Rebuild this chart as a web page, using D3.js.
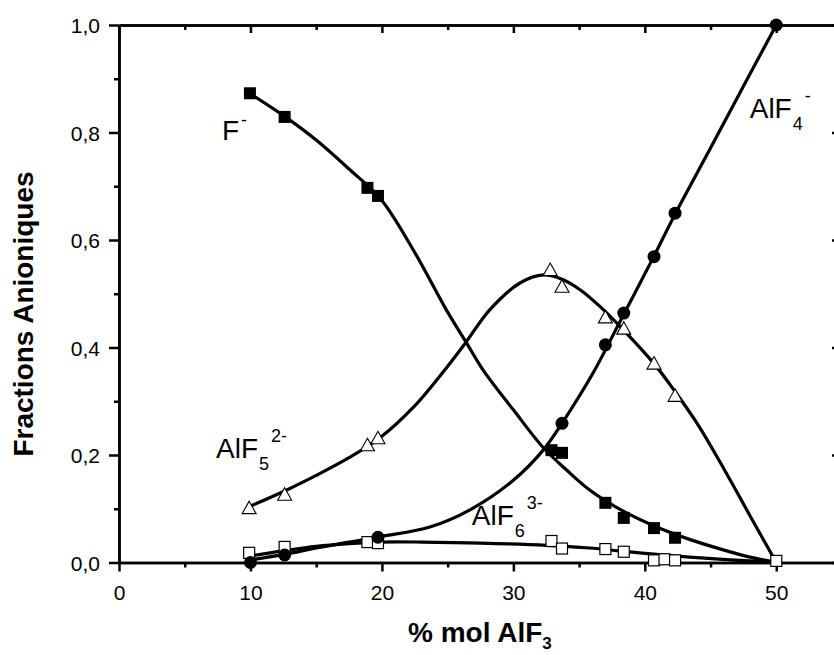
<!DOCTYPE html>
<html><head><meta charset="utf-8">
<script src="https://cdn.jsdelivr.net/npm/d3@7"></script>
<style>
body{margin:0;background:#fff;}
svg{display:block;}
text{font-family:Arial,"Liberation Sans",sans-serif;fill:#000;}
</style>
</head><body>
<svg id="c" width="834" height="655"></svg>
<script>
// ---------- data ----------
// measured points
const xF   = [9.96, 12.6, 18.9, 19.7, 32.9, 33.7, 37.0, 38.4, 40.7, 42.3];
const yF   = [0.873, 0.829, 0.697, 0.682, 0.209, 0.204, 0.111, 0.083, 0.064, 0.046];
const xF5  = [9.9, 12.6, 18.9, 19.7, 32.8, 33.7, 37.0, 38.4, 40.7, 42.3];
const yF5  = [0.102, 0.127, 0.219, 0.232, 0.545, 0.514, 0.457, 0.436, 0.371, 0.311];
const xF4  = [10, 12.6, 19.7, 33.7, 37.0, 38.4, 40.7, 42.3, 50];
const yF4  = [0.0, 0.014, 0.047, 0.259, 0.405, 0.464, 0.569, 0.65, 1.0];
const xF6  = [9.9, 12.6, 18.9, 19.7, 32.9, 33.7, 37.0, 38.4, 40.7, 41.5, 42.3, 50];
const yF6  = [0.018, 0.029, 0.038, 0.036, 0.040, 0.026, 0.025, 0.020, 0.004, 0.006, 0.004, 0.003];

// fitted curves
const fitXF  = [10, 12.6, 15, 17.5, 19.85, 22.4, 24.9, 26.4, 27.7, 30, 32.3, 34.05, 35.8, 38.4, 40.9, 43.4, 45.9, 48, 50];
const fitYF  = [0.872, 0.83, 0.786, 0.732, 0.678, 0.581, 0.47, 0.41, 0.358, 0.284, 0.213, 0.172, 0.135, 0.095, 0.066, 0.043, 0.024, 0.01, 0];
const fitXF5 = [10, 12.6, 15, 17.5, 19.85, 22.4, 24.9, 26.4, 28.2, 30.5, 32.3, 33.7, 35.1, 36.6, 38.4, 40.7, 42.3, 44, 46, 48, 50];
const fitYF5 = [0.105, 0.133, 0.162, 0.195, 0.232, 0.289, 0.362, 0.41, 0.47, 0.52, 0.535, 0.527, 0.507, 0.476, 0.432, 0.37, 0.318, 0.258, 0.175, 0.087, 0];
const fitXF4 = [10, 12.6, 15, 17.5, 19.85, 23.65, 26.7, 30, 32.3, 33.7, 36.05, 38.4, 40.7, 42.3, 45, 47.5, 50];
const fitYF4 = [0.005, 0.015, 0.027, 0.038, 0.048, 0.066, 0.098, 0.153, 0.21, 0.259, 0.352, 0.462, 0.57, 0.648, 0.771, 0.886, 1.0];
const fitXF6 = [10, 12.6, 15, 17.5, 19.85, 23, 27.5, 32.5, 35.8, 38.3, 40.9, 43.4, 46.5, 50];
const fitYF6 = [0.012, 0.022, 0.03, 0.035, 0.038, 0.038, 0.036, 0.032, 0.027, 0.021, 0.015, 0.01, 0.005, 0];

// ticks
const xMajor = [0, 10, 20, 30, 40, 50];
const xMajorLabels = ["0", "10", "20", "30", "40", "50"];
const xMinor = [5, 15, 25, 35, 45, 55];
const yMajor = [0, 0.2, 0.4, 0.6, 0.8, 1.0];
const yMajorLabels = ["0,0", "0,2", "0,4", "0,6", "0,8", "1,0"];
const yMinor = [0.1, 0.3, 0.5, 0.7, 0.9];

// ---------- layout ----------
const svg = d3.select("#c");
const x = d3.scaleLinear().domain([0, 55]).range([119, 842]);
const y = d3.scaleLinear().domain([0, 1]).range([562.5, 25]);
const AX = 2.5;

function styleAxis(g){
  g.select(".domain").attr("stroke","#000").attr("stroke-width",AX);
  g.selectAll(".tick line").attr("stroke","#000").attr("stroke-width",AX);
}

// bottom
svg.append("g").attr("transform",`translate(0,${y(0)})`)
  .call(d3.axisBottom(x).tickValues(xMinor).tickSizeInner(5).tickSizeOuter(0).tickFormat(""))
  .call(styleAxis);
const gb = svg.append("g").attr("transform",`translate(0,${y(0)})`)
  .call(d3.axisBottom(x).tickValues(xMajor).tickSizeInner(9).tickSizeOuter(0)
        .tickFormat((d,i)=>xMajorLabels[i]))
  .call(styleAxis);
gb.selectAll(".tick text").attr("y",37).attr("dy",0).attr("font-size",21)
  .attr("font-family","Arial, 'Liberation Sans', sans-serif");

// top
svg.append("g").attr("transform",`translate(0,${y(1)})`)
  .call(d3.axisTop(x).tickValues(xMinor).tickSizeInner(-5).tickSizeOuter(0).tickFormat(""))
  .call(styleAxis);
svg.append("g").attr("transform",`translate(0,${y(1)})`)
  .call(d3.axisTop(x).tickValues(xMajor).tickSizeInner(-8).tickSizeOuter(0).tickFormat(""))
  .call(styleAxis);

// left
svg.append("g").attr("transform",`translate(${x(0)},0)`)
  .call(d3.axisLeft(y).tickValues(yMinor).tickSizeInner(5).tickSizeOuter(0).tickFormat(""))
  .call(styleAxis);
const gl = svg.append("g").attr("transform",`translate(${x(0)},0)`)
  .call(d3.axisLeft(y).tickValues(yMajor).tickSizeInner(10).tickSizeOuter(0)
        .tickFormat((d,i)=>yMajorLabels[i]))
  .call(styleAxis);
gl.selectAll(".tick text").attr("x",-19).attr("dy","0.36em").attr("font-size",21)
  .attr("font-family","Arial, 'Liberation Sans', sans-serif");

// right (mostly outside the window)
svg.append("g").attr("transform",`translate(${x(55)},0)`)
  .call(d3.axisRight(y).tickValues(yMajor).tickSizeInner(-10).tickSizeOuter(0).tickFormat(""))
  .call(styleAxis);

// ---------- curves ----------
const line = d3.line().x(d=>x(d[0])).y(d=>y(d[1])).curve(d3.curveCatmullRom.alpha(0.5));
const fits = [[fitXF,fitYF],[fitXF5,fitYF5],[fitXF4,fitYF4],[fitXF6,fitYF6]];
svg.append("g").selectAll("path").data(fits).join("path")
  .attr("d", f => line(f[0].map((v,i)=>[v, f[1][i]])))
  .attr("fill","none").attr("stroke","#000").attr("stroke-width",3.2)
  .attr("stroke-linejoin","round");

// ---------- markers ----------
const zip = (a,b)=>a.map((v,i)=>[v,b[i]]);
const mk = svg.append("g");
// open squares AlF6 3-
mk.append("g").selectAll("rect").data(zip(xF6,yF6)).join("rect")
  .attr("x",d=>x(d[0])-5.5).attr("y",d=>y(d[1])-5.5).attr("width",11).attr("height",11)
  .attr("fill","#fff").attr("stroke","#000").attr("stroke-width",1.2);
// open triangles AlF5 2-
mk.append("g").selectAll("path").data(zip(xF5,yF5)).join("path")
  .attr("transform",d=>`translate(${x(d[0])},${y(d[1])})`)
  .attr("d","M0,-6.5L7,6L-7,6Z")
  .attr("fill","#fff").attr("stroke","#000").attr("stroke-width",1.1);
// filled circles AlF4 -
mk.append("g").selectAll("circle").data(zip(xF4,yF4)).join("circle")
  .attr("cx",d=>x(d[0])).attr("cy",d=>y(d[1])).attr("r",6.5).attr("fill","#000");
// filled squares F-
mk.append("g").selectAll("rect").data(zip(xF,yF)).join("rect")
  .attr("x",d=>x(d[0])-6).attr("y",d=>y(d[1])-6).attr("width",12).attr("height",12)
  .attr("fill","#000");

// ---------- species labels ----------
const labels = [
  {x:7.83, y:0.786, main:"F", sub:"", sup:"-"},
  {x:47.98, y:0.827, main:"AlF", sub:"4", sup:"-"},
  {x:7.38, y:0.194, main:"AlF", sub:"5", sup:"2-"},
  {x:26.84, y:0.070, main:"AlF", sub:"6", sup:"3-"}
];
labels.forEach(l=>{
  const t = svg.append("text").attr("x",x(l.x)).attr("y",y(l.y)).attr("font-size",28).text(l.main);
  if(l.sub){
    t.append("tspan").attr("font-size",18).attr("dx",1).attr("dy",12).text(l.sub);
    t.append("tspan").attr("font-size",18).attr("dx",2).attr("dy",-28).text(l.sup);
  } else {
    t.append("tspan").attr("font-size",18).attr("dx",2).attr("dy",-14).text(l.sup);
  }
});

// ---------- axis titles ----------
const xt = svg.append("text").attr("x",408).attr("y",642).attr("font-size",28)
  .attr("font-weight","bold").text("% mol AlF");
xt.append("tspan").attr("font-size",17).attr("dy",7).text("3");

svg.append("text").attr("transform","translate(33,314) rotate(-90)")
  .attr("text-anchor","middle").attr("font-size",28).attr("font-weight","bold")
  .text("Fractions Anioniques");
</script>
</body></html>
